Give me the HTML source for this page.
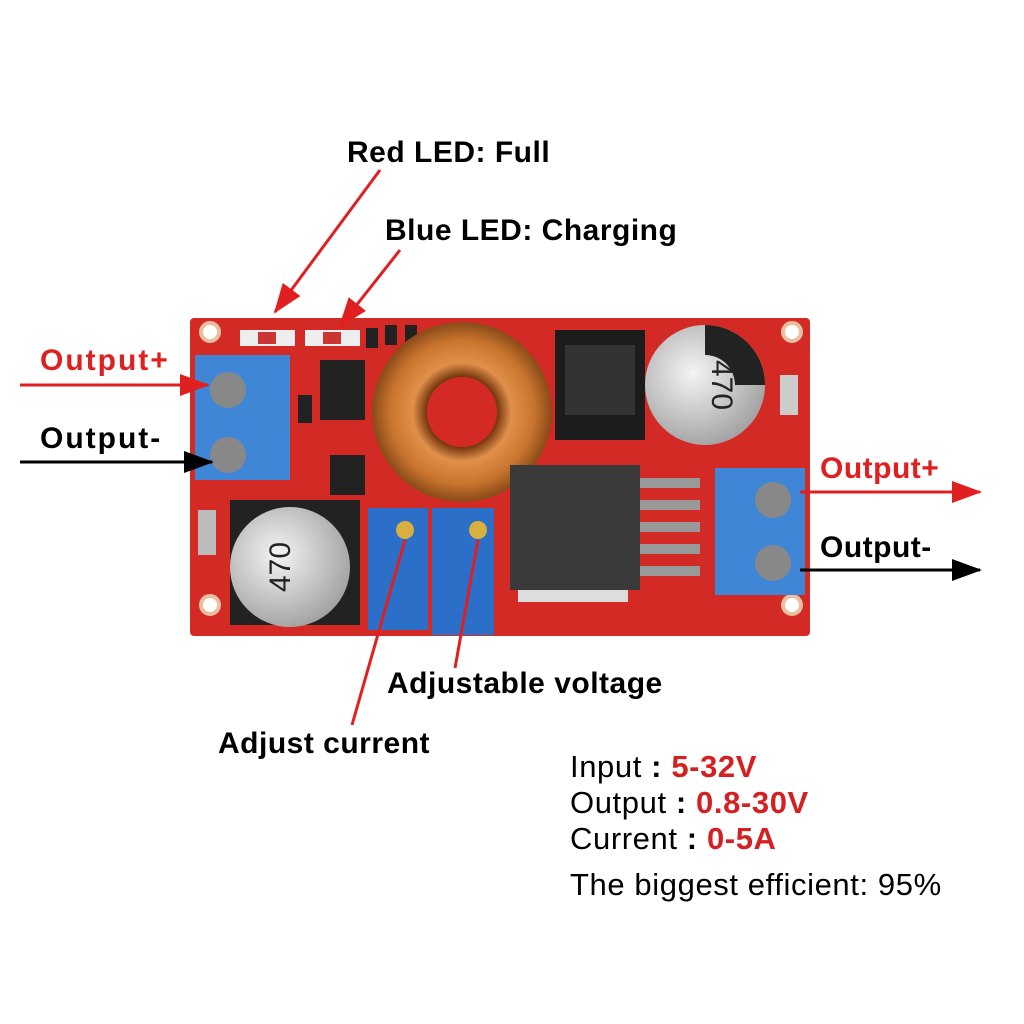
<!DOCTYPE html>
<html><head><meta charset="utf-8"><style>
html,body{margin:0;padding:0;background:#fff;}
svg{display:block}
text{font-family:"Liberation Sans",sans-serif;}
</style></head><body>
<svg width="1024" height="1024" viewBox="0 0 1024 1024" xmlns="http://www.w3.org/2000/svg">
<defs>
<marker id="ar" markerWidth="30" markerHeight="22" refX="28" refY="11" orient="auto" markerUnits="userSpaceOnUse" viewBox="0 0 30 22"><path d="M0,0 L30,11 L0,22 z" fill="#e02020"/></marker>
<marker id="ab" markerWidth="30" markerHeight="22" refX="28" refY="11" orient="auto" markerUnits="userSpaceOnUse" viewBox="0 0 30 22"><path d="M0,0 L30,11 L0,22 z" fill="#000"/></marker>
<radialGradient id="cap" cx="0.4" cy="0.4" r="0.7"><stop offset="0" stop-color="#f4f4f4"/><stop offset="1" stop-color="#9a9a9a"/></radialGradient>
<radialGradient id="cu" cx="0.5" cy="0.5" r="0.5"><stop offset="0.4" stop-color="#7a3a10"/><stop offset="0.55" stop-color="#e0904a"/><stop offset="0.8" stop-color="#c8742e"/><stop offset="1" stop-color="#8a4a18"/></radialGradient>
</defs>
<rect x="190" y="318" width="620" height="318" fill="#d42a26" rx="4"/>
<g fill="#fff" stroke="#e8c0a0" stroke-width="4">
<circle cx="210" cy="332" r="9"/><circle cx="792" cy="332" r="9"/><circle cx="210" cy="605" r="9"/><circle cx="792" cy="605" r="9"/>
</g>
<rect x="240" y="330" width="55" height="16" fill="#eee"/><rect x="258" y="332" width="18" height="12" fill="#c33"/>
<rect x="305" y="330" width="55" height="16" fill="#eee"/><rect x="323" y="332" width="18" height="12" fill="#c33"/>
<g fill="#222">
<rect x="320" y="360" width="45" height="60"/><rect x="330" y="455" width="35" height="40"/>
<rect x="298" y="395" width="14" height="28"/><rect x="366" y="328" width="12" height="20"/>
<rect x="385" y="325" width="12" height="20"/><rect x="405" y="325" width="12" height="20"/>
</g>
<rect x="780" y="375" width="18" height="40" fill="#ccc"/><rect x="198" y="510" width="18" height="45" fill="#bbb"/>
<rect x="555" y="330" width="90" height="110" fill="#1c1c1c"/><rect x="565" y="345" width="70" height="70" fill="#333"/>
<circle cx="462" cy="412" r="90" fill="url(#cu)"/><circle cx="462" cy="412" r="35" fill="#d42a26"/>
<circle cx="705" cy="385" r="60" fill="url(#cap)"/>
<path d="M705,325 A60,60 0 0 1 765,385 L735,385 A30,30 0 0 0 705,355 z" fill="#222"/>
<text x="712" y="385" font-size="30" fill="#222" transform="rotate(90 712 385)" text-anchor="middle">470</text>
<rect x="230" y="500" width="130" height="125" fill="#222"/>
<circle cx="290" cy="567" r="60" fill="url(#cap)"/>
<text x="290" y="567" font-size="30" fill="#222" transform="rotate(-90 290 567)" text-anchor="middle">470</text>
<rect x="510" y="465" width="130" height="125" fill="#3a3a3a"/>
<g fill="#999"><rect x="640" y="478" width="60" height="10"/><rect x="640" y="500" width="60" height="10"/><rect x="640" y="522" width="60" height="10"/><rect x="640" y="544" width="60" height="10"/><rect x="640" y="566" width="60" height="10"/></g>
<rect x="518" y="590" width="110" height="12" fill="#ddd"/>
<rect x="368" y="508" width="60" height="122" fill="#2b6fc9"/><circle cx="405" cy="530" r="9" fill="#d8b040"/>
<rect x="432" y="508" width="62" height="127" fill="#2b6fc9"/><circle cx="478" cy="530" r="9" fill="#d8b040"/>
<rect x="195" y="355" width="95" height="125" fill="#3f87d6"/>
<circle cx="228" cy="390" r="18" fill="#888"/><circle cx="228" cy="455" r="18" fill="#888"/>
<rect x="715" y="468" width="90" height="127" fill="#3f87d6"/>
<circle cx="773" cy="500" r="18" fill="#888"/><circle cx="773" cy="563" r="18" fill="#888"/>
<g stroke-width="3" fill="none">
<line x1="380" y1="170" x2="275" y2="312" stroke="#e02020" marker-end="url(#ar)"/>
<line x1="400" y1="250" x2="340" y2="326" stroke="#e02020" marker-end="url(#ar)"/>
<line x1="20" y1="385" x2="208" y2="385" stroke="#e02020" marker-end="url(#ar)"/>
<line x1="20" y1="462" x2="212" y2="462" stroke="#000" marker-end="url(#ab)"/>
<line x1="800" y1="492" x2="980" y2="492" stroke="#e02020" marker-end="url(#ar)"/>
<line x1="800" y1="570" x2="980" y2="570" stroke="#000" marker-end="url(#ab)"/>
<line x1="352" y1="725" x2="405" y2="540" stroke="#e02020"/>
<line x1="455" y1="668" x2="478" y2="540" stroke="#e02020"/>
</g>
<g font-weight="bold" font-size="30" letter-spacing="0.5">
<text x="347" y="162">Red LED: Full</text>
<text x="385" y="240">Blue LED: Charging</text>
<text x="40" y="370" fill="#e02020" letter-spacing="2">Output+</text>
<text x="40" y="448" letter-spacing="2">Output-</text>
<text x="820" y="478" fill="#e02020">Output+</text>
<text x="820" y="557">Output-</text>
<text x="387" y="693">Adjustable voltage</text>
<text x="218" y="753">Adjust current</text>
</g>
<g font-size="31" letter-spacing="0.6">
<text x="570" y="777">Input <tspan font-weight="bold">:</tspan> <tspan font-weight="bold" fill="#d42020">5-32V</tspan></text>
<text x="570" y="813">Output <tspan font-weight="bold">:</tspan> <tspan font-weight="bold" fill="#d42020">0.8-30V</tspan></text>
<text x="570" y="849">Current <tspan font-weight="bold">:</tspan> <tspan font-weight="bold" fill="#d42020">0-5A</tspan></text>
<text x="570" y="895">The biggest efficient: 95%</text>
</g>
</svg>
</body></html>
